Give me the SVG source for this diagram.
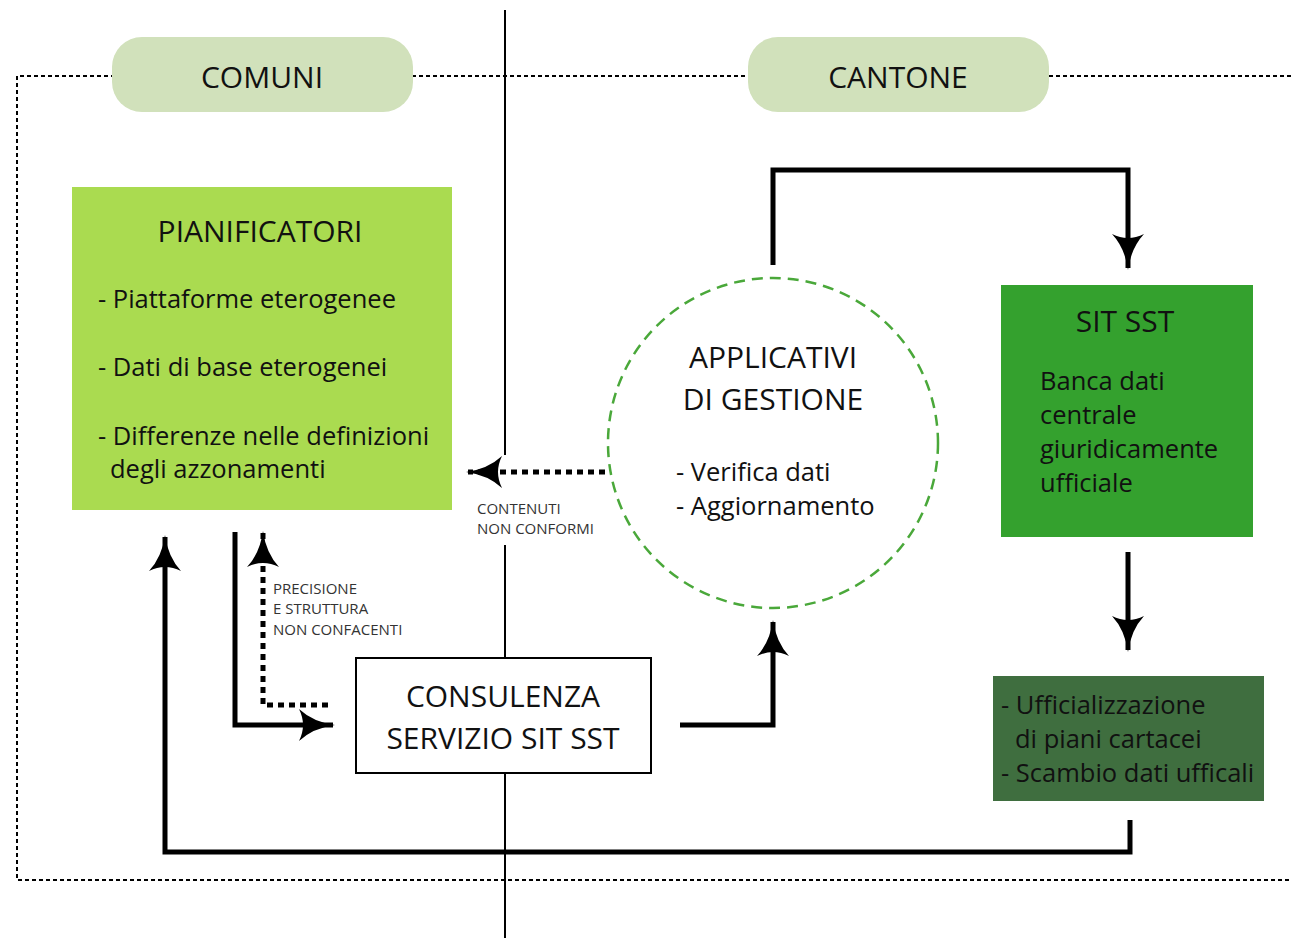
<svg xmlns="http://www.w3.org/2000/svg" width="1291" height="938" viewBox="0 0 1291 938">
<defs>
<marker id="ah" viewBox="0 0 36 32" markerWidth="36" markerHeight="32" refX="34" refY="16" orient="auto" markerUnits="userSpaceOnUse">
<path d="M0,0 Q14,13 36,16 Q14,19 0,32 Q8,16 0,0 Z" fill="#000"/>
</marker>
<style>
.t{font-family:"Open Sans","Noto Sans",sans-serif;fill:#111}
.big{font-size:30px}
.med{font-size:25.5px}
.sm{font-size:15px;fill:#333}
.solid{fill:none;stroke:#000;stroke-width:5}
.dot{fill:none;stroke:#000;stroke-width:5;stroke-dasharray:6 5}
</style>
</defs>
<rect width="1291" height="938" fill="#fff"/>
<g id="frame">
<path d="M1291,76 H17 V880 H1291" fill="none" stroke="#000" stroke-width="2" stroke-dasharray="4 3"/>
<path d="M505,10 V455 M505,545 V938" stroke="#000" stroke-width="2"/>
</g>
<g id="comuni">
<rect x="112" y="37" width="301" height="75" rx="30" fill="#d1e1bb"/>
<text class="t big" x="262" y="88" text-anchor="middle">COMUNI</text>
</g>
<g id="cantone">
<rect x="748" y="37" width="301" height="75" rx="30" fill="#d1e1bb"/>
<text class="t big" x="898" y="88" text-anchor="middle">CANTONE</text>
</g>
<g id="connectors">
<path class="solid" d="M773,265 V170 H1128 V268" marker-end="url(#ah)"/>
<path class="solid" d="M1128,552 V650" marker-end="url(#ah)"/>
<path class="solid" d="M1130,820 V852 H165 V537" marker-end="url(#ah)"/>
<path class="solid" d="M235,532 V725 H333" marker-end="url(#ah)"/>
<path class="dot" d="M328,705 H263 V533" marker-end="url(#ah)"/>
<path class="solid" d="M680,725 H773 V622" marker-end="url(#ah)"/>
<path class="dot" d="M605,472 H468" marker-end="url(#ah)"/>
<text class="t sm" x="477" y="514">CONTENUTI</text>
<text class="t sm" x="477" y="534">NON CONFORMI</text>
<text class="t sm" x="273" y="594">PRECISIONE</text>
<text class="t sm" x="273" y="614">E STRUTTURA</text>
<text class="t sm" x="273" y="635">NON CONFACENTI</text>
</g>
<g id="pianificatori">
<rect x="72" y="187" width="380" height="323" fill="#aadb50"/>
<text class="t big" x="260" y="242" text-anchor="middle">PIANIFICATORI</text>
<text class="t med" x="98" y="308">- Piattaforme eterogenee</text>
<text class="t med" x="98" y="376">- Dati di base eterogenei</text>
<text class="t med" x="98" y="445">- Differenze nelle definizioni</text>
<text class="t med" x="110" y="478">degli azzonamenti</text>
</g>
<g id="applicativi">
<circle cx="773" cy="443" r="165" fill="#fff" stroke="#4aa83a" stroke-width="2.5" stroke-dasharray="11 7"/>
<text class="t big" x="773" y="368" text-anchor="middle">APPLICATIVI</text>
<text class="t big" x="773" y="410" text-anchor="middle">DI GESTIONE</text>
<text class="t med" x="676" y="481">- Verifica dati</text>
<text class="t med" x="676" y="515">- Aggiornamento</text>
</g>
<g id="sitsst">
<rect x="1001" y="285" width="252" height="252" fill="#34a12e"/>
<text class="t big" x="1125" y="332" text-anchor="middle">SIT SST</text>
<text class="t med" x="1040" y="390">Banca dati</text>
<text class="t med" x="1040" y="424">centrale</text>
<text class="t med" x="1040" y="458">giuridicamente</text>
<text class="t med" x="1040" y="492">ufficiale</text>
</g>
<g id="ufficializzazione">
<rect x="993" y="676" width="271" height="125" fill="#3f6e3f"/>
<text class="t med" x="1001" y="714">- Ufficializzazione</text>
<text class="t med" x="1015" y="748">di piani cartacei</text>
<text class="t med" x="1001" y="782">- Scambio dati ufficali</text>
</g>
<g id="consulenza">
<rect x="356" y="658" width="295" height="115" fill="#fff" stroke="#000" stroke-width="2"/>
<text class="t big" x="503" y="707" text-anchor="middle">CONSULENZA</text>
<text class="t big" x="503" y="749" text-anchor="middle">SERVIZIO SIT SST</text>
</g>
</svg>
